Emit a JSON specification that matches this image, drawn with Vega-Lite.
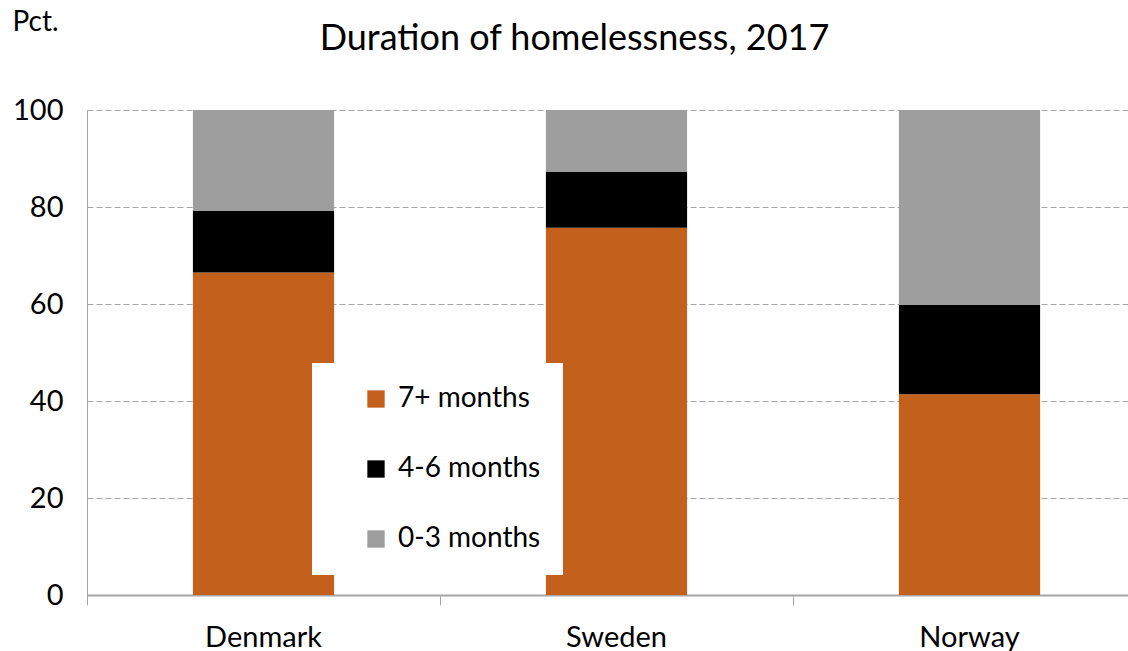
{
  "$schema": "https://vega.github.io/schema/vega-lite/v6.json",
  "autosize": {"type": "none"},
  "width": 1041,
  "height": 485,
  "padding": {"left": 87, "top": 110, "right": 0, "bottom": 56},
  "background": "white",
  "title": {
    "text": "Duration of homelessness, 2017",
    "font": "Lato",
    "fontSize": 36,
    "fontWeight": "normal",
    "color": "#000000",
    "anchor": "middle",
    "dx": -33,
    "dy": 50,
    "offset": 0
  },
  "data": {
    "values": [
      {"country": "Denmark", "duration": "7+ months", "order": 1, "pct": 66.5},
      {"country": "Denmark", "duration": "4-6 months", "order": 2, "pct": 12.7},
      {"country": "Denmark", "duration": "0-3 months", "order": 3, "pct": 20.8},
      {"country": "Sweden", "duration": "7+ months", "order": 1, "pct": 75.7},
      {"country": "Sweden", "duration": "4-6 months", "order": 2, "pct": 11.5},
      {"country": "Sweden", "duration": "0-3 months", "order": 3, "pct": 12.8},
      {"country": "Norway", "duration": "7+ months", "order": 1, "pct": 41.4},
      {"country": "Norway", "duration": "4-6 months", "order": 2, "pct": 18.4},
      {"country": "Norway", "duration": "0-3 months", "order": 3, "pct": 40.2}
    ]
  },
  "mark": {"type": "bar", "width": {"band": 0.4}},
  "encoding": {
    "x": {
      "field": "country",
      "type": "nominal",
      "sort": ["Denmark", "Sweden", "Norway"],
      "scale": {"paddingInner": 0, "paddingOuter": 0, "range": [0, 1059]},
      "axis": {
        "title": null,
        "labelAngle": 0,
        "bandPosition": 0,
        "labelFont": "Lato",
        "labelFontSize": 29,
        "labelColor": "#000000",
        "labelPadding": 18,
        "tickSize": 10,
        "tickColor": "#A6A6A6",
        "tickWidth": 1,
        "domainColor": "#A6A6A6",
        "domainWidth": 2,
        "grid": false
      }
    },
    "y": {
      "field": "pct",
      "type": "quantitative",
      "stack": "zero",
      "scale": {"domain": [0, 100]},
      "axis": {
        "values": [0, 20, 40, 60, 80, 100],
        "title": "Pct.",
        "titleAngle": 0,
        "titleX": -75,
        "titleY": -88,
        "titleAlign": "left",
        "titleBaseline": "middle",
        "titleFont": "Lato",
        "titleFontSize": 28,
        "titleFontWeight": "normal",
        "titleColor": "#000000",
        "labelFont": "Lato",
        "labelFontSize": 29,
        "labelColor": "#000000",
        "labelPadding": 24,
        "ticks": false,
        "domainColor": "#A6A6A6",
        "domainWidth": 1,
        "grid": true,
        "gridColor": "#A6A6A6",
        "gridDash": [6, 3],
        "gridWidth": 1
      }
    },
    "color": {
      "field": "duration",
      "type": "nominal",
      "sort": ["7+ months", "4-6 months", "0-3 months"],
      "scale": {
        "domain": ["7+ months", "4-6 months", "0-3 months"],
        "range": ["#C2601C", "#000000", "#9E9E9E"]
      },
      "legend": {
        "title": null,
        "orient": "none",
        "legendX": 225,
        "legendY": 253,
        "fillColor": "white",
        "padding": 22,
        "symbolType": "square",
        "symbolSize": 300,
        "symbolStrokeWidth": 0,
        "symbolOffset": 28,
        "labelFont": "Lato",
        "labelFontSize": 28,
        "labelColor": "#000000",
        "labelOffset": 8,
        "labelExpr": "datum.label + '\u00a0\u00a0\u00a0\u00a0'",
        "rowPadding": 42
      }
    },
    "order": {"field": "order", "type": "quantitative"}
  },
  "config": {
    "view": {"stroke": null}
  }
}
